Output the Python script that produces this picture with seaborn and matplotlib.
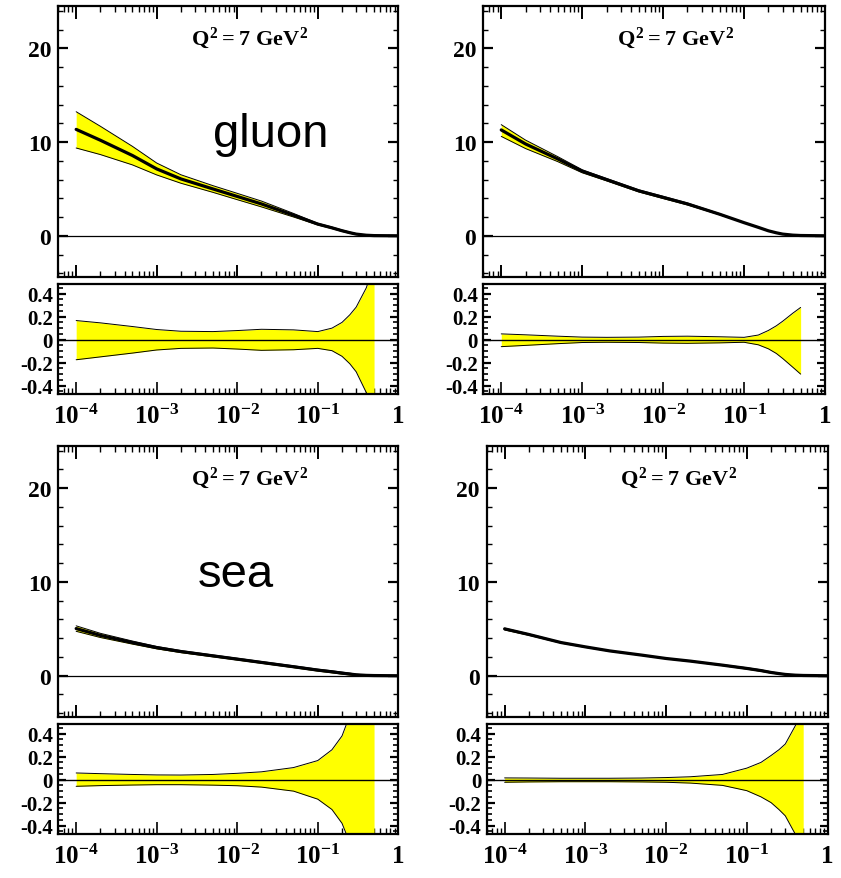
import matplotlib
matplotlib.use('Agg')
import matplotlib.pyplot as plt
from matplotlib.ticker import MultipleLocator, LogLocator, NullFormatter
import pandas as pd
import seaborn as sns


X = [1e-4, 2e-4, 5e-4, 1e-3, 2e-3, 5e-3, 1e-2, 2e-2, 5e-2,
     0.1, 0.15, 0.2, 0.25, 0.3, 0.4, 0.5]
X_FULL = X + [1.0]

# central x*f(x) curves at Q^2 = 7 GeV^2
GLUON_A = [11.36, 10.2, 8.57, 7.14, 6.07, 5.0, 4.2, 3.4, 2.2,
           1.25, 0.85, 0.54, 0.33, 0.18, 0.06, 0.02, 0.0]
GLUON_B = [11.3, 9.8, 8.2, 6.9, 6.0, 4.8, 4.1, 3.4, 2.3,
           1.4, 0.9, 0.53, 0.32, 0.18, 0.07, 0.03, 0.0]
SEA_A = [5.03, 4.3, 3.54, 3.0, 2.58, 2.12, 1.77, 1.42, 0.96,
         0.6, 0.42, 0.28, 0.18, 0.1, 0.04, 0.02, 0.0]
SEA_B = [5.0, 4.4, 3.54, 3.08, 2.65, 2.2, 1.84, 1.56, 1.13,
         0.78, 0.55, 0.35, 0.23, 0.14, 0.06, 0.03, 0.0]

# relative uncertainty bands (ratio panels)
GLUON_A_UP = [0.166, 0.146, 0.114, 0.088, 0.073, 0.07, 0.079, 0.09, 0.085,
              0.07, 0.10, 0.15, 0.216, 0.283, 0.45, 0.65]
GLUON_A_DN = [-0.175, -0.15, -0.117, -0.09, -0.076, -0.073, -0.082, -0.093, -0.088,
              -0.076, -0.096, -0.145, -0.21, -0.28, -0.46, -0.65]
GLUON_B_UP = [0.05, 0.042, 0.03, 0.022, 0.02, 0.022, 0.028, 0.03, 0.025,
              0.02, 0.04, 0.08, 0.12, 0.16, 0.23, 0.28]
GLUON_B_DN = [-0.061, -0.05, -0.035, -0.025, -0.023, -0.025, -0.03, -0.032, -0.028,
              -0.023, -0.045, -0.08, -0.12, -0.164, -0.24, -0.30]
SEA_A_UP = [0.058, 0.052, 0.045, 0.041, 0.04, 0.045, 0.055, 0.068, 0.105,
            0.166, 0.26, 0.38, 0.56, 0.7, 0.95, 1.2]
SEA_A_DN = [-0.058, -0.052, -0.047, -0.044, -0.044, -0.048, -0.053, -0.065, -0.1,
            -0.17, -0.26, -0.38, -0.55, -0.7, -0.95, -1.2]
SEA_B_UP = [0.015, 0.014, 0.012, 0.012, 0.012, 0.014, 0.018, 0.025, 0.045,
            0.1, 0.15, 0.21, 0.26, 0.31, 0.47, 0.6]
SEA_B_DN = [-0.023, -0.02, -0.018, -0.018, -0.018, -0.02, -0.023, -0.03, -0.05,
            -0.096, -0.15, -0.2, -0.26, -0.315, -0.476, -0.6]

LABELS = ['gluon', '', 'sea', '']
Q2_TEXT = r'$Q^2 = 7\ GeV^2$'
XTICKS = [1e-4, 1e-3, 1e-2, 1e-1, 1.0]
XTICK_LABELS = [r'$10^{-4}$', r'$10^{-3}$', r'$10^{-2}$', r'$10^{-1}$', '1']

W, H = 841, 879
YELLOW = '#ffff00'


def rect(left, top, right, bottom):
    return [left / W, 1 - bottom / H, (right - left) / W, (bottom - top) / H]


def style_axes(ax, main):
    ax.set_xscale('log')
    ax.set_xlim(6e-5, 1.0)
    ax.xaxis.set_minor_locator(LogLocator(base=10, subs=range(2, 10), numticks=20))
    ax.xaxis.set_minor_formatter(NullFormatter())
    ax.set_xticks(XTICKS)
    for s in ax.spines.values():
        s.set_linewidth(1.6)
        s.set_color('black')
    ax.set_xlabel('')
    ax.set_ylabel('')
    if main:
        ax.set_ylim(-4.4, 24.5)
        ax.yaxis.set_major_locator(MultipleLocator(10))
        ax.yaxis.set_minor_locator(MultipleLocator(2))
        ax.set_xticklabels([])
        ax.tick_params(axis='x', which='both', direction='in', top=True, bottom=True)
        ax.tick_params(axis='x', which='major', length=9, width=1.4)
        ax.tick_params(axis='x', which='minor', length=4.5, width=1.0)
        ax.tick_params(axis='y', which='both', direction='in', left=True, right=True,
                       labelsize=17, pad=5)
        ax.tick_params(axis='y', which='major', length=7, width=1.6)
        ax.tick_params(axis='y', which='minor', length=3.6, width=1.0)
    else:
        ax.set_ylim(-0.473, 0.484)
        ax.yaxis.set_major_locator(MultipleLocator(0.2))
        ax.yaxis.set_minor_locator(MultipleLocator(0.05))
        ax.yaxis.set_major_formatter(plt.FuncFormatter(
            lambda v, p: '0' if abs(v) < 1e-9 else f'{v:.1f}'))
        ax.set_xticklabels(XTICK_LABELS)
        ax.tick_params(axis='x', which='both', direction='in', top=False, bottom=True,
                       labelsize=18, pad=7)
        ax.tick_params(axis='x', which='major', length=9, width=1.2)
        ax.tick_params(axis='x', which='minor', length=4, width=1.0)
        ax.tick_params(axis='y', which='both', direction='in', left=True, right=True,
                       labelsize=15, pad=4)
        ax.tick_params(axis='y', which='major', length=6, width=1.6)
        ax.tick_params(axis='y', which='minor', length=3.5, width=1.2)


def draw_panel(fig, main_rect, ratio_rect, central, up, dn, label):
    ax = fig.add_axes(rect(*main_rect))
    rx = fig.add_axes(rect(*ratio_rect))

    c = central[:len(X)]
    hi = [v * (1 + u) for v, u in zip(c, up)]
    lo = [v * (1 + d) for v, d in zip(c, dn)]

    # main panel
    ax.axhline(0, color='black', lw=0.9, zorder=1)
    ax.fill_between(X, lo, hi, color=YELLOW, lw=0, zorder=2)
    band = pd.DataFrame({'x': X * 2, 'y': hi + lo,
                         'edge': ['hi'] * len(X) + ['lo'] * len(X)})
    sns.lineplot(data=band, x='x', y='y', units='edge', estimator=None,
                 color='black', lw=0.7, ax=ax, zorder=3)
    cen = pd.DataFrame({'x': X_FULL, 'y': central})
    sns.lineplot(data=cen, x='x', y='y', color='black', lw=2.3, ax=ax, zorder=4)
    ax.text(0.565, 0.886, Q2_TEXT, transform=ax.transAxes, ha='center', va='center',
            fontsize=16, color='black')
    if label:
        ax.text(0.625 if label == 'gluon' else 0.522, 0.485, label,
                transform=ax.transAxes, ha='center', va='baseline', fontsize=34,
                family='Liberation Sans', fontweight='normal', color='black')

    # ratio panel
    rx.fill_between(X, dn, up, color=YELLOW, lw=0, zorder=2)
    rband = pd.DataFrame({'x': X * 2, 'y': up + dn,
                          'edge': ['hi'] * len(X) + ['lo'] * len(X)})
    sns.lineplot(data=rband, x='x', y='y', units='edge', estimator=None,
                 color='black', lw=0.7, ax=rx, zorder=3)
    rx.axhline(0, color='black', lw=1.0, zorder=4)

    style_axes(ax, True)
    style_axes(rx, False)


sns.set_theme(style='ticks')
plt.rcParams['font.family'] = ['Liberation Serif', 'DejaVu Serif']
plt.rcParams['font.weight'] = 'bold'
plt.rcParams['text.color'] = 'black'
plt.rcParams['xtick.color'] = 'black'
plt.rcParams['ytick.color'] = 'black'
plt.rcParams['xtick.labelcolor'] = 'black'
plt.rcParams['ytick.labelcolor'] = 'black'
plt.rcParams['mathtext.fontset'] = 'custom'
plt.rcParams['mathtext.rm'] = 'Liberation Serif:bold'
plt.rcParams['mathtext.it'] = 'Liberation Serif:bold'
plt.rcParams['mathtext.bf'] = 'Liberation Serif:bold'
plt.rcParams['axes.unicode_minus'] = False

fig = plt.figure(figsize=(W / 100, H / 100), dpi=100)
fig.patch.set_facecolor('white')

draw_panel(fig, (58.3, 7.3, 398.3, 278), (58.3, 285, 398.3, 395),
           GLUON_A, GLUON_A_UP, GLUON_A_DN, LABELS[0])
draw_panel(fig, (483.3, 7.3, 825, 278), (483.3, 285, 825, 395),
           GLUON_B, GLUON_B_UP, GLUON_B_DN, LABELS[1])
draw_panel(fig, (58.3, 447, 398.3, 718), (58.3, 725, 398.3, 835),
           SEA_A, SEA_A_UP, SEA_A_DN, LABELS[2])
draw_panel(fig, (486.7, 447, 827.5, 718), (486.7, 725, 827.5, 835),
           SEA_B, SEA_B_UP, SEA_B_DN, LABELS[3])

fig.savefig('out.png', dpi=100, facecolor='white')
